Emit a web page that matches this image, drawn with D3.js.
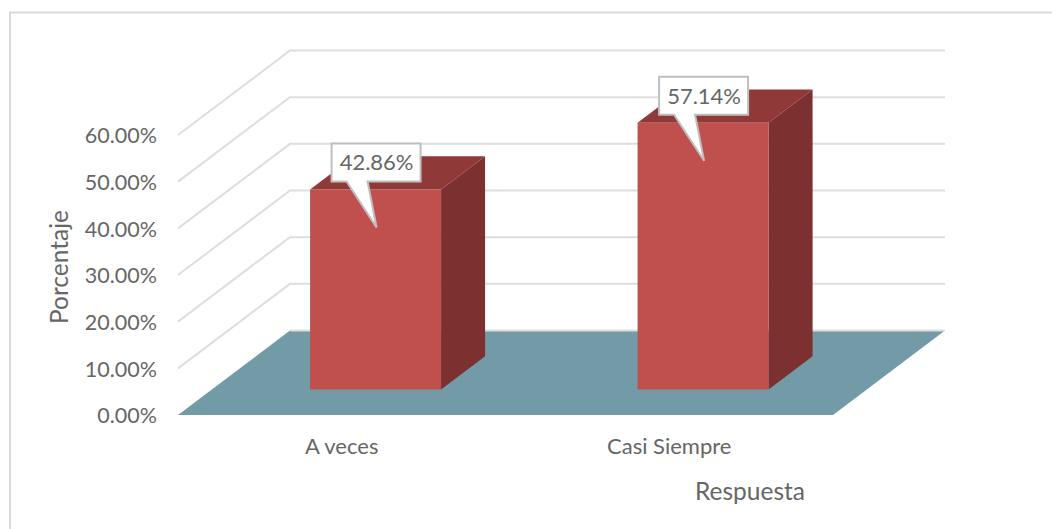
<!DOCTYPE html>
<html>
<head>
<meta charset="utf-8">
<script src="https://cdn.jsdelivr.net/npm/d3@7"></script>
<style>
  html, body { margin: 0; padding: 0; background: #fff; }
  svg { display: block; }
  text { font-family: Lato, "Open Sans", sans-serif; fill: #666; }
</style>
</head>
<body>
<svg width="1052" height="529"></svg>
<script>
var categories = ["A veces", "Casi Siempre"];
var values = [42.86, 57.14];
var yTicks = [0, 10, 20, 30, 40, 50, 60];
var yTitle = "Porcentaje";
var xTitle = "Respuesta";

var svg = d3.select("svg");

// chart frame, open on the right and at the bottom
svg.append("path")
    .attr("d", "M10,529V12.5H1052")
    .attr("fill", "none")
    .attr("stroke", "#d9d9d9")
    .attr("stroke-width", 2);

///////////////////// SCALES ////////////////////
var xScale = d3.scaleBand()
    .domain(categories)
    .range([178, 833])
    .paddingInner(0.6)
    .paddingOuter(0.3);

var yScale = d3.scaleLinear()
    .domain([0, 60])
    .range([415, 135]);

// depth of the 3d box: how far the back wall is shifted from the front
var depthX = d3.scaleLinear().domain([0, 1]).range([0, 112]);
var depthY = d3.scaleLinear().domain([0, 1]).range([0, -84.5]);
var barFront = 0.302, barBack = 0.695;

function pt(x, v, z) {
    return [x + depthX(z), yScale(v) + depthY(z)];
}
var line = d3.line();
function poly(points) {
    return line(points) + "Z";
}
/////////////////////////////////////////////////

var xMin = xScale.range()[0], xMax = xScale.range()[1];

// floor
svg.append("path")
    .attr("d", poly([pt(xMin, 0, 0), pt(xMax, 0, 0), pt(xMax, 0, 1), pt(xMin, 0, 1)]))
    .attr("fill", "#729aa7");

// grid lines on the side and back walls
svg.append("g").selectAll("path")
    .data(yTicks)
    .join("path")
    .attr("d", function(d) {
        if (d === 0) return line([pt(xMin, d, 1), pt(xMax, d, 1)]);
        return line([pt(xMin, d, 0), pt(xMin, d, 1), pt(xMax, d, 1)]);
    })
    .attr("fill", "none")
    .attr("stroke", "#dedede")
    .attr("stroke-width", 2);

///////////////////// BARS ////////////////////
var bars = svg.append("g").selectAll("g")
    .data(categories)
    .join("g");

bars.append("path") // top
    .attr("d", function(d, i) {
        var a = xScale(d), b = a + xScale.bandwidth();
        return poly([pt(a, values[i], barFront), pt(b, values[i], barFront), pt(b, values[i], barBack), pt(a, values[i], barBack)]);
    })
    .attr("fill", "#8f3a39");

bars.append("path") // side
    .attr("d", function(d, i) {
        var b = xScale(d) + xScale.bandwidth();
        return poly([pt(b, 0, barFront), pt(b, 0, barBack), pt(b, values[i], barBack), pt(b, values[i], barFront)]);
    })
    .attr("fill", "#7c3130");

bars.append("path") // front
    .attr("d", function(d, i) {
        var a = xScale(d), b = a + xScale.bandwidth();
        return poly([pt(a, 0, barFront), pt(b, 0, barFront), pt(b, values[i], barFront), pt(a, values[i], barFront)]);
    })
    .attr("fill", "#c0504d");
/////////////////////////////////////////////////

///////////////////// AXES ////////////////////
var yAxis = d3.axisLeft(yScale)
    .tickValues(yTicks)
    .tickSize(0)
    .tickPadding(21)
    .tickFormat(function(d) { return d3.format(".2f")(d) + "%"; });

var yG = svg.append("g")
    .attr("transform", "translate(178,0)")
    .call(yAxis);
yG.select(".domain").remove();
yG.selectAll("text")
    .attr("dy", "0.36em")
    .style("font-family", "Lato, sans-serif")
    .style("font-size", "21.5px")
    .style("fill", "#666");

var xAxis = d3.axisBottom(xScale)
    .tickSize(0)
    .tickPadding(23);

var xG = svg.append("g")
    .attr("transform", "translate(0,415)")
    .call(xAxis);
xG.select(".domain").remove();
xG.selectAll("text")
    .style("font-family", "Lato, sans-serif")
    .style("font-size", "22px")
    .style("fill", "#666");

svg.append("text")
    .attr("text-anchor", "middle")
    .style("font-size", "24.5px")
    .attr("transform", "translate(68,267)rotate(-90)")
    .text(yTitle);

svg.append("text")
    .attr("text-anchor", "middle")
    .style("font-size", "24.5px")
    .attr("transform", "translate(750,500)")
    .text(xTitle);
/////////////////////////////////////////////////

///////////////////// CALLOUTS ////////////////////
var boxW = 89, tipDrop = 38;
var labels = svg.append("g").selectAll("g")
    .data(categories)
    .join("g")
    .attr("transform", function(d, i) {
        var p = pt(xScale(d) + xScale.bandwidth() / 2, values[i], barFront);
        return "translate(" + (p[0] + 1) + "," + (p[1] + tipDrop) + ")";
    });

labels.append("path")
    .attr("d", poly([[-45, -84], [boxW - 45, -84], [boxW - 45, -46], [-9, -46], [0, 0], [-30, -46], [-45, -46]]))
    .attr("fill", "#fff")
    .attr("stroke", "#bfbfbf")
    .attr("stroke-width", 2);

labels.append("text")
    .attr("x", 0)
    .attr("y", -57)
    .attr("text-anchor", "middle")
    .style("font-size", "22px")
    .text(function(d, i) { return d3.format(".2f")(values[i]) + "%"; });
/////////////////////////////////////////////////
</script>
</body>
</html>
